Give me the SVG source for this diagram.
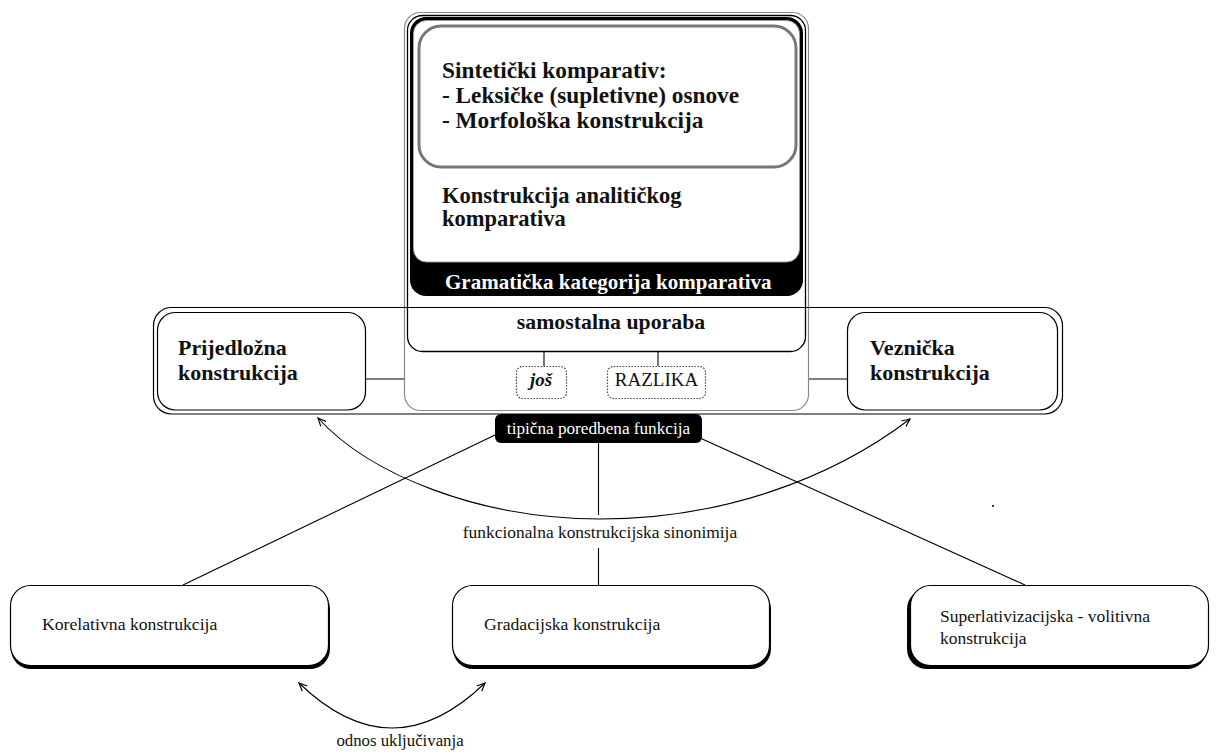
<svg xmlns="http://www.w3.org/2000/svg" width="1217" height="752" viewBox="0 0 1217 752">
<style>
.t{font-family:"Liberation Serif","Times New Roman",serif;fill:#111}
.b{font-weight:bold}
.w{fill:#fff}
.ln{stroke:#000;stroke-width:1.1;fill:none}
.box{fill:#fff;stroke:#000;stroke-width:1.2}
.dot{fill:#fff;stroke:#444;stroke-width:1.2;stroke-dasharray:1.5 1.5}
.sh{fill:#000}
</style>
<defs>
<marker id="ah" viewBox="0 0 10 10" refX="9" refY="5" markerWidth="9" markerHeight="9" markerUnits="userSpaceOnUse" orient="auto-start-reverse">
<path d="M0,1 L9,5 L0,9" fill="none" stroke="#000" stroke-width="1.3"/>
</marker>
</defs>
<rect width="1217" height="752" fill="#fff"/>

<g id="band">
<rect x="153.5" y="307.5" width="909" height="106.5" rx="18" fill="none" stroke="#000" stroke-width="1.2"/>
</g>

<g id="n-centre">
<rect x="404.5" y="12.5" width="404" height="398" rx="16" fill="#fff" stroke="#888" stroke-width="1.2"/>
<rect x="407.5" y="15.5" width="398" height="336" rx="15" fill="#fff" stroke="#000" stroke-width="1.3"/>
<line x1="404" y1="307.5" x2="809" y2="307.5" stroke="#000" stroke-width="1.2"/>
</g>

<g id="n-gramaticka">
<rect x="410" y="17" width="393" height="279" rx="16" fill="#000"/>
<rect x="413.5" y="20.5" width="386" height="241.5" rx="13" fill="#fff" stroke="#999" stroke-width="1"/>
<text class="t b w" x="445" y="289" font-size="21">Gramatička kategorija komparativa</text>
<text class="t b" x="442" y="203" font-size="22.5">Konstrukcija analitičkog</text>
<text class="t b" x="442" y="226" font-size="22.5">komparativa</text>
</g>

<g id="n-sinteticki">
<rect x="419" y="26" width="377" height="141" rx="22" fill="#fff" stroke="#777" stroke-width="3"/>
<text class="t b" x="442" y="78" font-size="23.3">Sintetički komparativ:</text>
<text class="t b" x="442" y="103" font-size="23.3">- Leksičke (supletivne) osnove</text>
<text class="t b" x="442" y="128" font-size="23.3">- Morfološka konstrukcija</text>
</g>

<g id="n-samostalna">
<text class="t b" x="611" y="329" font-size="21.8" text-anchor="middle">samostalna uporaba</text>
</g>

<g id="n-jos">
<rect class="dot" x="516.5" y="366.5" width="50" height="32" rx="6"/>
<text class="t b" x="541" y="386" font-size="19" font-style="italic" text-anchor="middle">još</text>
</g>

<g id="n-razlika">
<rect class="dot" x="607.5" y="366.5" width="98" height="32" rx="6"/>
<text class="t" x="656.5" y="386" font-size="19" text-anchor="middle">RAZLIKA</text>
</g>

<g id="n-prijedlozna">
<rect class="box" x="157.5" y="312.5" width="208" height="97.5" rx="18"/>
<text class="t b" x="178" y="355" font-size="22">Prijedložna</text>
<text class="t b" x="178" y="380" font-size="22">konstrukcija</text>
</g>

<g id="n-veznicka">
<rect class="box" x="847.5" y="312.5" width="210" height="97.5" rx="18"/>
<text class="t b" x="870" y="355" font-size="22">Veznička</text>
<text class="t b" x="870" y="380" font-size="22">konstrukcija</text>
</g>

<g id="n-tipicna">
<rect x="495" y="414" width="207" height="29" rx="6" fill="#000"/>
<text class="t w" x="598.5" y="434" font-size="17.2" text-anchor="middle">tipična poredbena funkcija</text>
</g>

<g id="connectors">
<line class="ln" x1="365" y1="379" x2="404" y2="379"/>
<line class="ln" x1="809" y1="379" x2="847" y2="379"/>
<line class="ln" x1="544" y1="352" x2="544" y2="366"/>
<line class="ln" x1="658" y1="352" x2="658" y2="366"/>
<line class="ln" x1="495" y1="435" x2="183" y2="585"/>
<line class="ln" x1="700" y1="438" x2="1025" y2="585"/>
<line class="ln" x1="598.5" y1="443" x2="598.5" y2="515"/>
<line class="ln" x1="598.5" y1="548" x2="598.5" y2="585"/>
<path class="ln" d="M318,418 C370,475 480,519 600,519 C720,519 830,480 910,419" marker-start="url(#ah)" marker-end="url(#ah)"/>
<path class="ln" d="M299,683 Q392,773 485,683" marker-start="url(#ah)" marker-end="url(#ah)"/>
<text class="t" x="600" y="538" font-size="17.4" text-anchor="middle">funkcionalna konstrukcijska sinonimija</text>
<text class="t" x="400" y="746" font-size="16.8" text-anchor="middle">odnos uključivanja</text>
</g>

<g id="n-korelativna">
<rect class="sh" x="11" y="589" width="319" height="80" rx="20"/>
<rect class="box" x="10.5" y="585.5" width="318" height="80" rx="20"/>
<text class="t" x="42" y="630" font-size="17.7">Korelativna konstrukcija</text>
</g>

<g id="n-gradacijska">
<rect class="sh" x="453" y="589" width="318" height="80" rx="20"/>
<rect class="box" x="452.5" y="585.5" width="317" height="80" rx="20"/>
<text class="t" x="484" y="630" font-size="17.7">Gradacijska konstrukcija</text>
</g>

<g id="n-superlativ">
<rect class="sh" x="907" y="589" width="300" height="80" rx="20"/>
<rect class="box" x="910.5" y="585.5" width="298" height="80" rx="20"/>
<text class="t" x="940" y="622" font-size="17.5">Superlativizacijska - volitivna</text>
<text class="t" x="940" y="644" font-size="17.5">konstrukcija</text>
</g>

<circle cx="993" cy="506" r="1" fill="#000"/>
</svg>
